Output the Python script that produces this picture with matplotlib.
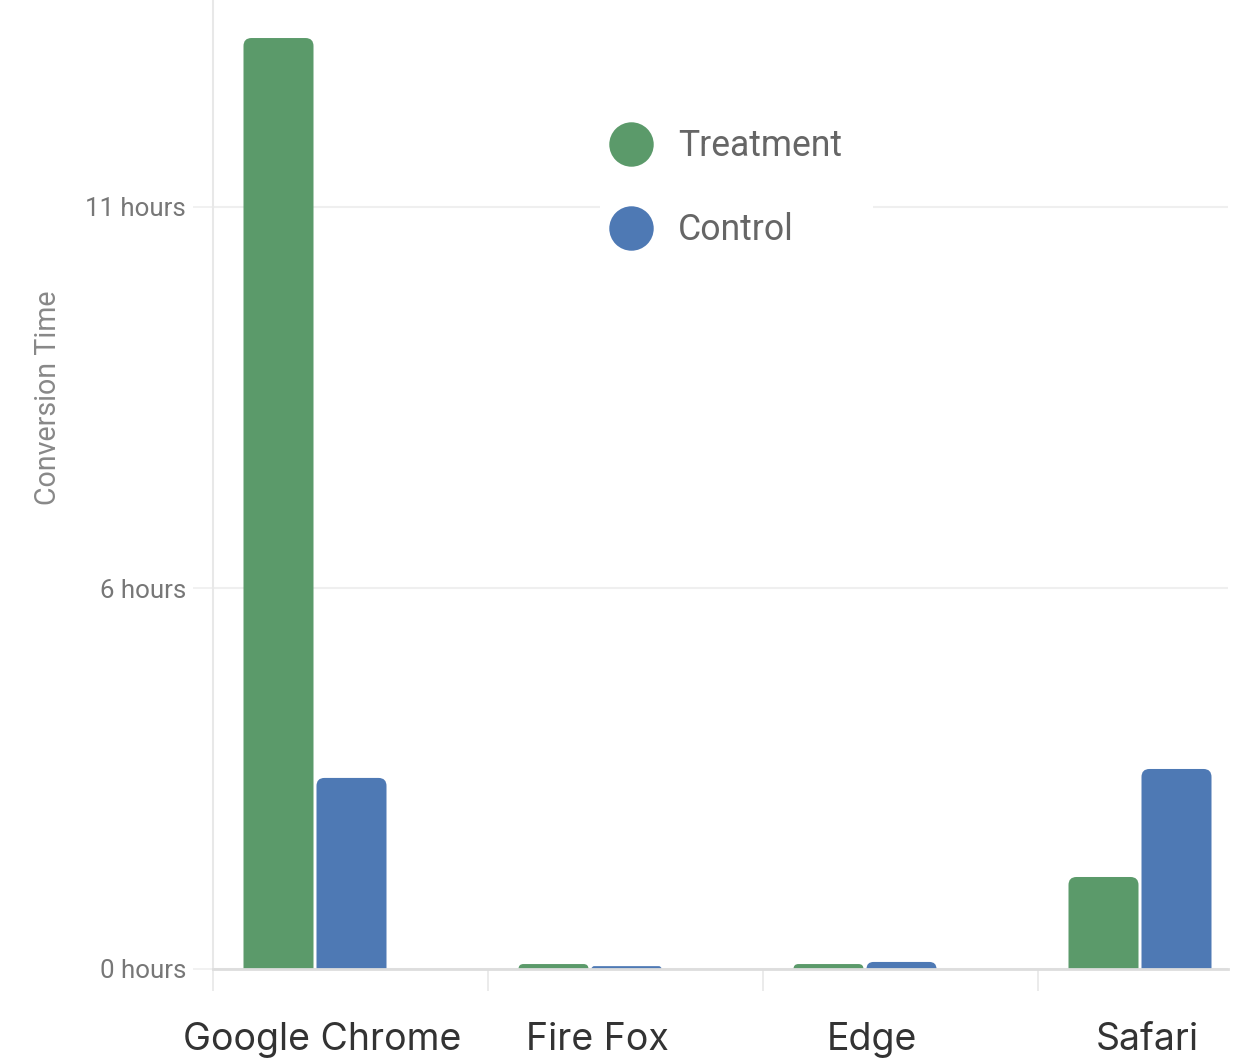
import matplotlib
matplotlib.use("Agg")
import matplotlib.pyplot as plt
from matplotlib.patches import PathPatch, Rectangle
from matplotlib.path import Path
from matplotlib.lines import Line2D
from matplotlib.ticker import FixedLocator, FuncFormatter
from matplotlib.transforms import ScaledTranslation

# ---- data (seconds) ----
categories = ["Google Chrome", "Fire Fox", "Edge", "Safari"]
treatment = [48870, 260, 260, 4830]
control = [10030, 150, 370, 10500]
series_names = ["Treatment", "Control"]
y_ticks = [0, 20000, 40000]

GREEN = "#5B9A6A"
BLUE = "#4E79B4"
GRID = "#efefef"

plt.rcParams['font.family'] = ['Roboto', 'DejaVu Sans']

W, H = 1236, 1062
fig = plt.figure(figsize=(W / 100, H / 100), dpi=100)
ax_l, ax_r, ax_b, ax_t = 213, 1228, 969, 0
ax = fig.add_axes([ax_l / W, (H - ax_b) / H, (ax_r - ax_l) / W, (ax_b - ax_t) / H])

band_px = 275.0
xmin = -102 / band_px
xmax = 3 + 88 / band_px
ymax = 969 / 381 * 20000
ax.set_xlim(xmin, xmax)
ax.set_ylim(0, ymax)

dx_px = (xmax - xmin) / (ax_r - ax_l)
dy_px = ymax / (ax_b - ax_t)

bw = 70 * dx_px
off = 36.5 * dx_px
xs = list(range(len(categories)))

bars_t = ax.bar([x - off for x in xs], treatment, width=bw, color=GREEN)
bars_c = ax.bar([x + off for x in xs], control, width=bw, color=BLUE)

# replace with rounded-top bars (same geometry as the bar containers)
for bars, col in ((bars_t, GREEN), (bars_c, BLUE)):
    for b in bars:
        x0, w, h = b.get_x(), b.get_width(), b.get_height()
        b.set_visible(False)
        x1 = x0 + w
        h_px = h / dy_px
        w_px = w / dx_px
        r_px = min(8, h_px, w_px / 2)
        rx, ry = r_px * dx_px, r_px * dy_px
        verts = [(x0, 0), (x0, h - ry), (x0, h), (x0 + rx, h), (x1 - rx, h),
                 (x1, h), (x1, h - ry), (x1, 0), (x0, 0)]
        codes = [Path.MOVETO, Path.LINETO, Path.CURVE3, Path.CURVE3, Path.LINETO,
                 Path.CURVE3, Path.CURVE3, Path.LINETO, Path.CLOSEPOLY]
        ax.add_patch(PathPatch(Path(verts, codes), facecolor=col, edgecolor="none", zorder=3))

# axes styling
for s in ("top", "right"):
    ax.spines[s].set_visible(False)
ax.spines["left"].set_color("#e8e8e8")
ax.spines["left"].set_linewidth(1.5)
ax.spines["bottom"].set_color("#dddddd")
ax.spines["bottom"].set_linewidth(2)
ax.spines["bottom"].set_zorder(4)

ax.yaxis.set_major_locator(FixedLocator(y_ticks))
ax.yaxis.set_major_formatter(FuncFormatter(lambda v, p: f"{round(v / 3600)} hours"))
ax.tick_params(axis="y", length=14.4, width=1.2, color=GRID, labelsize=18.6,
               labelcolor="#777777", pad=5)
ax.grid(axis="y", color=GRID, linewidth=1.5, zorder=0)
ax.set_axisbelow(True)

ax.set_xticks(xs)
ax.set_xticklabels(categories, fontfamily=['Inter', 'DejaVu Sans'])
ax.tick_params(axis="x", which="major", length=0, labelsize=27, labelcolor="#333333", pad=38)
shift = ScaledTranslation(5 / 72, 0, fig.dpi_scale_trans)
for lab in ax.get_xticklabels():
    lab.set_transform(lab.get_transform() + shift)
ax.set_xticks([x + xmin for x in xs], minor=True)
ax.tick_params(axis="x", which="minor", length=16, width=1.2, color="#e8e8e8")

ax.set_ylabel("Conversion Time", fontsize=20.6, color="#888888")
ax.yaxis.set_label_coords((62 - ax_l) / (ax_r - ax_l), (969 - 398) / 969)

# white backdrop of the legend (hides the grid line behind it)
ax.add_patch(Rectangle((600 / W, 1 - 265 / H), 273 / W, 155 / H, transform=fig.transFigure,
                       facecolor="white", edgecolor="none", zorder=1))

handles = [Line2D([], [], marker="o", linestyle="none", markersize=32,
                  markerfacecolor=c, markeredgecolor="none") for c in (GREEN, BLUE)]
leg = fig.legend(handles, series_names, loc="center left",
                 bbox_to_anchor=(583 / W, 1 - 188 / H),
                 frameon=False, fontsize=25.6, labelspacing=1.35,
                 handletextpad=0.57, handlelength=1.5, borderpad=0.1)
for t in leg.get_texts():
    t.set_color("#666666")

fig.savefig("out.png", dpi=100)
